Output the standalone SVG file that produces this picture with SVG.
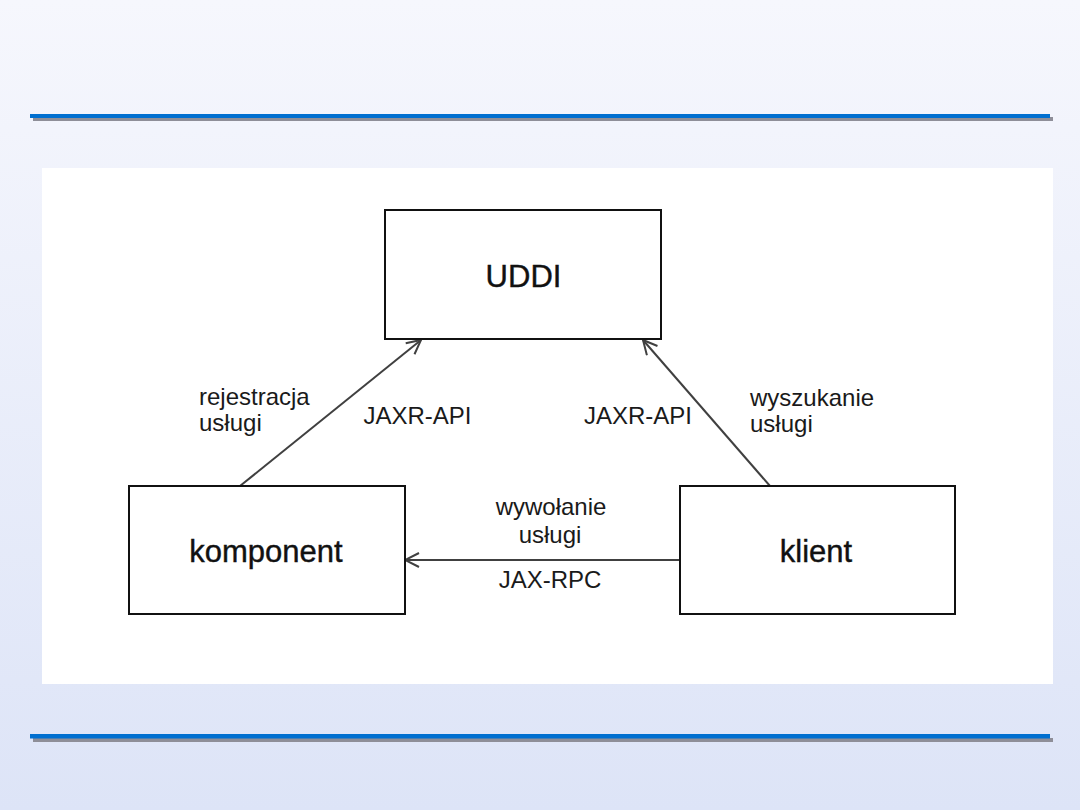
<svg xmlns="http://www.w3.org/2000/svg" width="1080" height="810" viewBox="0 0 1080 810">
  <defs>
    <linearGradient id="bg" x1="0" y1="0" x2="0" y2="1">
      <stop offset="0" stop-color="#f6f7fd"/>
      <stop offset="1" stop-color="#dde4f7"/>
    </linearGradient>
    <marker id="open" viewBox="0 0 16 16" refX="15" refY="8" markerWidth="16" markerHeight="16" markerUnits="userSpaceOnUse" orient="auto">
      <path d="M1,1 L15,8 L1,15" fill="none" stroke="#404040" stroke-width="2"/>
    </marker>
    <style>
      .box { fill: #ffffff; stroke: #111111; stroke-width: 2; }
      .node { font-family: "Liberation Sans", Arial, sans-serif; font-size: 31px; fill: #111111; stroke: #111111; stroke-width: 0.4; text-anchor: middle; }
      .lbl { font-family: "Liberation Sans", Arial, sans-serif; font-size: 24px; fill: #1a1a1a; }
      .mid { text-anchor: middle; }
      .conn { stroke: #404040; stroke-width: 2; fill: none; marker-end: url(#open); }
    </style>
  </defs>
  <rect x="0" y="0" width="1080" height="810" fill="url(#bg)"/>
  <g id="rules">
    <rect x="33" y="117" width="1020" height="4" fill="#8e8e98"/>
    <rect x="30" y="114" width="1020" height="4" fill="#006fd0"/>
    <rect x="33" y="738" width="1020" height="4" fill="#8e8e98"/>
    <rect x="30" y="734" width="1020" height="4.5" fill="#006fd0"/>
  </g>
  <rect x="42" y="168" width="1011" height="516" fill="#ffffff"/>
  <g id="connectors">
    <line class="conn" x1="240" y1="486" x2="421" y2="340"/>
    <line class="conn" x1="770" y1="486" x2="643" y2="340"/>
    <line class="conn" x1="680" y1="560" x2="405" y2="560"/>
  </g>
  <g id="uddi">
    <rect class="box" x="385" y="210" width="276" height="129"/>
    <text class="node" x="523.5" y="287">UDDI</text>
  </g>
  <g id="komponent">
    <rect class="box" x="129" y="486" width="276" height="128"/>
    <text class="node" x="266" y="562">komponent</text>
  </g>
  <g id="klient">
    <rect class="box" x="680" y="486" width="275" height="128"/>
    <text class="node" x="816" y="562">klient</text>
  </g>
  <g id="labels">
    <text class="lbl" x="199" y="405">rejestracja</text>
    <text class="lbl" x="199" y="431">usługi</text>
    <text class="lbl mid" x="417.5" y="424">JAXR-API</text>
    <text class="lbl mid" x="638" y="424">JAXR-API</text>
    <text class="lbl" x="750" y="406">wyszukanie</text>
    <text class="lbl" x="750" y="432">usługi</text>
    <text class="lbl mid" x="551" y="515">wywołanie</text>
    <text class="lbl mid" x="550" y="543">usługi</text>
    <text class="lbl mid" x="550" y="588">JAX-RPC</text>
  </g>
</svg>
